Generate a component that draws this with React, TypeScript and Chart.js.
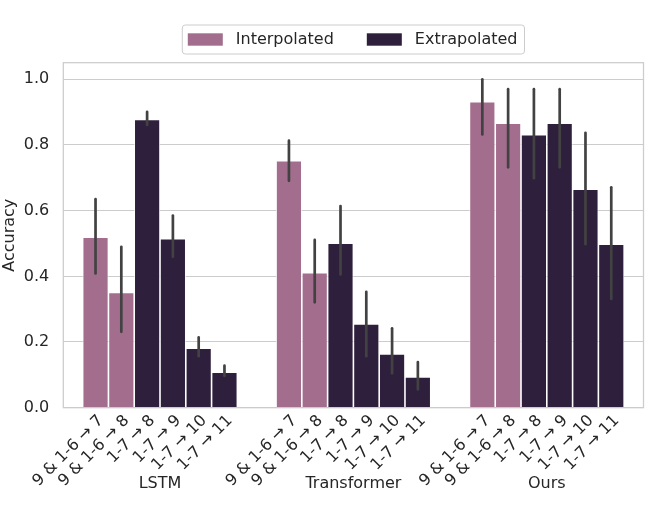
import React, { useEffect, useRef } from 'react';
import { Chart, registerables } from 'chart.js';

Chart.register(...registerables);

const models = ['LSTM', 'Transformer', 'Ours'];
const conditions = ['9 & 1-6 → 7', '9 & 1-6 → 8', '1-7 → 8', '1-7 → 9', '1-7 → 10', '1-7 → 11'];
const conditionKind = ['Interpolated', 'Interpolated', 'Extrapolated', 'Extrapolated', 'Extrapolated', 'Extrapolated'];
const legendLabels = ['Interpolated', 'Extrapolated'];

const lstmAcc = [0.519, 0.351, 0.878, 0.515, 0.181, 0.108];
const lstmLow = [0.409, 0.231, 0.861, 0.46, 0.157, 0.097];
const lstmHigh = [0.635, 0.49, 0.901, 0.585, 0.214, 0.128];
const transformerAcc = [0.752, 0.411, 0.501, 0.255, 0.164, 0.094];
const transformerLow = [0.691, 0.321, 0.406, 0.157, 0.105, 0.056];
const transformerHigh = [0.813, 0.511, 0.614, 0.353, 0.242, 0.139];
const oursAcc = [0.932, 0.866, 0.831, 0.866, 0.665, 0.498];
const oursLow = [0.832, 0.732, 0.699, 0.732, 0.498, 0.331];
const oursHigh = [1.0, 0.97, 0.97, 0.97, 0.837, 0.671];
const yTicks = [0, 0.2, 0.4, 0.6, 0.8, 1.0];

const kindColors: Record<string, string> = {
  Interpolated: '#a36e8d',
  Extrapolated: '#2e1f3c',
};
const TEXT = '#262626';
const GRID = '#cccccc';
const FONT = "'DejaVu Sans', sans-serif";

const accByModel = [lstmAcc, transformerAcc, oursAcc];
const lowByModel = [lstmLow, transformerLow, oursLow];
const highByModel = [lstmHigh, transformerHigh, oursHigh];

const customPlugin = {
  id: 'customDecor',
  afterDatasetsDraw(chart: any) {
    const { ctx } = chart;
    const yScale = chart.scales.y;
    ctx.save();
    ctx.strokeStyle = '#424242';
    ctx.lineWidth = 2.7;
    ctx.lineCap = 'round';
    conditions.forEach((_, j) => {
      const meta = chart.getDatasetMeta(j);
      meta.data.forEach((el: any, i: number) => {
        const y1 = yScale.getPixelForValue(lowByModel[i][j]);
        const y2 = yScale.getPixelForValue(highByModel[i][j]);
        ctx.beginPath();
        ctx.moveTo(el.x, y1);
        ctx.lineTo(el.x, y2);
        ctx.stroke();
      });
    });
    ctx.restore();
  },
  afterDraw(chart: any) {
    const { ctx, chartArea } = chart;
    ctx.save();
    ctx.strokeStyle = GRID;
    ctx.lineWidth = 1.25;
    ctx.strokeRect(chartArea.left, chartArea.top, chartArea.right - chartArea.left, chartArea.bottom - chartArea.top);
    ctx.restore();

    ctx.save();
    ctx.fillStyle = TEXT;
    ctx.font = `16px ${FONT}`;
    ctx.textAlign = 'right';
    ctx.textBaseline = 'middle';
    conditions.forEach((label, j) => {
      const meta = chart.getDatasetMeta(j);
      meta.data.forEach((el: any) => {
        ctx.save();
        ctx.translate(el.x + 5.5, chartArea.bottom + 10.5);
        ctx.rotate(-Math.PI / 4);
        ctx.fillText(label, 0, 0);
        ctx.restore();
      });
    });
    ctx.restore();

    ctx.save();
    ctx.font = `16px ${FONT}`;
    const padL = 5.5, sw = 35, gapText = 13, gapItem = 33, padR = 7;
    const widths = legendLabels.map((l) => ctx.measureText(l).width);
    const total = padL + sw + gapText + widths[0] + gapItem + sw + gapText + widths[1] + padR;
    const cx = (chartArea.left + chartArea.right) / 2;
    const left = cx - total / 2;
    const top = 25, h = 29;
    ctx.fillStyle = 'rgba(255,255,255,0.9)';
    ctx.strokeStyle = GRID;
    ctx.lineWidth = 1;
    ctx.beginPath();
    (ctx as any).roundRect(left, top, total, h, 3);
    ctx.fill();
    ctx.stroke();
    let x = left + padL;
    const cy = top + h / 2;
    legendLabels.forEach((l, k) => {
      ctx.fillStyle = kindColors[l];
      ctx.fillRect(x, cy - 6.2, sw, 12.4);
      x += sw + gapText;
      ctx.fillStyle = TEXT;
      ctx.textAlign = 'left';
      ctx.textBaseline = 'middle';
      ctx.fillText(l, x, cy + 0.5);
      x += widths[k] + gapItem;
    });
    ctx.restore();
  },
};

export default function App() {
  const canvasRef = useRef<HTMLCanvasElement | null>(null);

  useEffect(() => {
    document.body.style.margin = '0';
    const canvas = canvasRef.current;
    if (!canvas) return;
    Chart.defaults.font.family = FONT;
    const datasets = conditions.map((c, j) => ({
      label: c,
      data: accByModel.map((arr) => arr[j]),
      backgroundColor: kindColors[conditionKind[j]],
      borderColor: '#ffffff',
      borderWidth: 0.8,
      categoryPercentage: 0.8,
      barPercentage: 1.0,
    }));
    const chart = new Chart(canvas, {
      type: 'bar',
      data: { labels: models, datasets },
      options: {
        animation: false,
        responsive: true,
        maintainAspectRatio: false,
        layout: { padding: { top: 62.7, right: 19.5, bottom: 0, left: 0 } },
        plugins: {
          legend: { display: false },
          tooltip: { enabled: false },
        },
        scales: {
          x: {
            grid: { display: false, drawTicks: false },
            border: { display: false },
            ticks: { color: TEXT, font: { size: 16, family: FONT }, padding: 67, maxRotation: 0 },
            afterFit: (scale: any) => { scale.height = 105.3; },
          },
          y: {
            min: 0,
            max: 1.0506,
            grid: { color: GRID, lineWidth: 1.1, drawTicks: false },
            border: { display: false },
            ticks: {
              color: TEXT,
              font: { size: 16, family: FONT },
              padding: 14,
              includeBounds: false,
              callback: (v: any) => Number(v).toFixed(1),
            },
            afterBuildTicks: (scale: any) => { scale.ticks = yTicks.map((v) => ({ value: v })); },
            title: { display: true, text: 'Accuracy', color: TEXT, font: { size: 16, family: FONT }, padding: 0 },
            afterFit: (scale: any) => { scale.width = 63.3; },
          },
        },
      },
      plugins: [customPlugin],
    });
    return () => chart.destroy();
  }, []);

  return (
    <div style={{ width: 663, height: 513, position: 'relative', background: '#ffffff' }}>
      <canvas ref={canvasRef} />
    </div>
  );
}
